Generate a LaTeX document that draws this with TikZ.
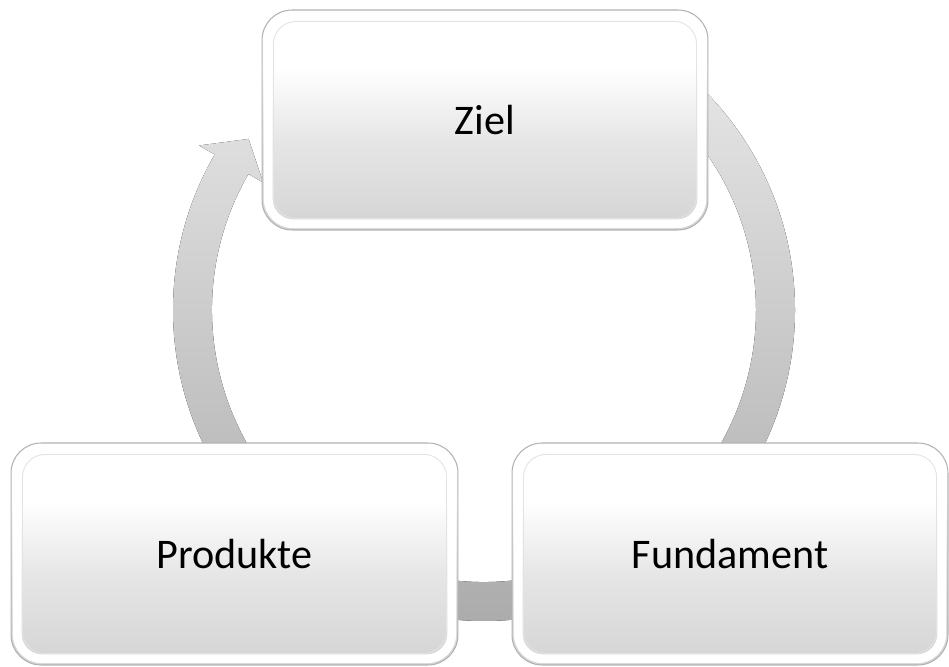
\documentclass[tikz,border=0pt]{standalone}
\usepackage{fontspec}
\setmainfont{Carlito}
\usepackage{tikz}
\usetikzlibrary{positioning}
\pgfdeclareverticalshading{faceshade}{100bp}{color(0bp)=(gray!34); color(25bp)=(gray!34); color(45bp)=(gray!20); color(62bp)=(white); color(100bp)=(white)}

\begin{document}
\begin{tikzpicture}[x=0.02cm, y=0.02cm,
  stepbox/.style={draw=gray!60, line width=0.6pt, rounded corners=0.6cm,
    shading=faceshade, font=\fontsize{24}{28}\selectfont,
    path picture={
      \draw[white, line width=5pt, rounded corners=0.5cm]
        ([shift={(3.5pt,-3.5pt)}]path picture bounding box.north west) rectangle
        ([shift={(-3.5pt,3.5pt)}]path picture bounding box.south east);
      \draw[gray!22, line width=0.5pt, rounded corners=0.45cm]
        ([shift={(6.5pt,-6.5pt)}]path picture bounding box.north west) rectangle
        ([shift={(-6.5pt,6.5pt)}]path picture bounding box.south east);
    }},
  ring/.style={top color=gray!22, bottom color=gray!68}]
  \useasboundingbox (0,0) rectangle (949,666);
  \coordinate (hub) at (484,356);
  % cycle arrow behind the boxes
  \fill[ring] ([shift={(44:311)}]hub) arc[start angle=44, end angle=-210, radius=311]
    -- ([shift={(150:329)}]hub) -- ([shift={(144:291)}]hub) -- ([shift={(150:255)}]hub)
    -- ([shift={(150:272)}]hub) arc[start angle=-210, end angle=44, radius=272] -- cycle;
  % steps
  \node[stepbox, minimum width=8.92cm, minimum height=4.4cm] (ziel) at (485,546) {Ziel};
  \node[stepbox, minimum width=8.94cm, minimum height=4.44cm] (produkte) at (234.5,112) {Produkte};
  \node[stepbox, minimum width=8.72cm, minimum height=4.44cm] (fundament) at (730,112) {Fundament};
\end{tikzpicture}
\end{document}
